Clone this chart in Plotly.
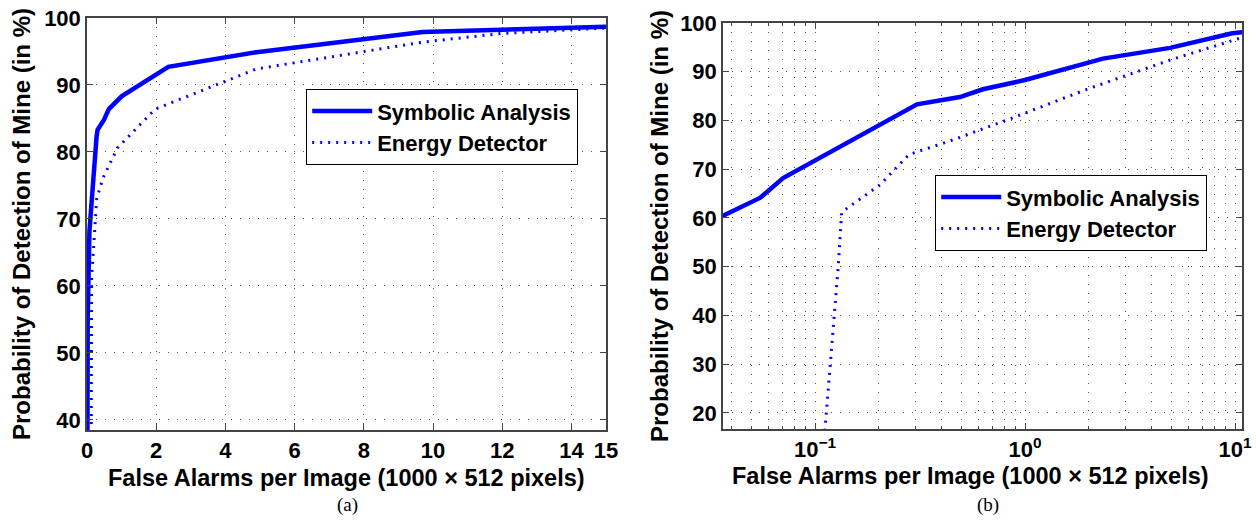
import plotly.graph_objects as go
from plotly.subplots import make_subplots

# ---- data ----
sa_x = [0.0, 0.005, 0.02, 0.0547, 0.0705, 0.277, 0.306, 0.49, 0.63, 1.0, 2.35, 4.9, 9.7, 15.0]
sa_y = [0.0, 38.5, 55.0, 64.1, 68.2, 82.3, 83.3, 84.8, 86.4, 88.3, 92.7, 94.9, 97.9, 98.7]
ed_x = [0.105, 0.1116, 0.129, 0.134, 0.204, 0.28, 0.46, 0.88, 1.97, 4.9, 9.7, 12.0, 15.0]
ed_y = [0.0, 16.7, 50.0, 61.2, 66.8, 73.0, 76.1, 80.6, 86.4, 92.4, 96.4, 97.7, 98.5]

series_names = ["Symbolic Analysis", "Energy Detector"]
lin_xticks = [0, 2, 4, 6, 8, 10, 12, 14, 15]
lin_yticks = [40, 50, 60, 70, 80, 90, 100]
log_xticks = [0.1, 1, 10]
log_xtext = ["10<sup>−1</sup>", "10<sup>0</sup>", "10<sup>1</sup>"]
log_minor = [0.04, 0.05, 0.06, 0.07, 0.08, 0.09,
             0.2, 0.3, 0.4, 0.5, 0.6, 0.7, 0.8, 0.9,
             2, 3, 4, 5, 6, 7, 8, 9]
log_yticks = [20, 30, 40, 50, 60, 70, 80, 90, 100]

x_title = "False Alarms per Image (1000 × 512 pixels)"
y_title = "Probability of Detection of Mine (in %)"

W, H = 1256, 523
BLUE = "#0000FF"

fig = make_subplots(rows=1, cols=2)

def px(x):
    return x / W

def py(y):
    return 1 - y / H

for col, leg in [(1, "legend"), (2, "legend2")]:
    fig.add_trace(go.Scatter(x=sa_x, y=sa_y, mode="lines", name=series_names[0],
                             line=dict(color=BLUE, width=4.5), legend=leg,
                             cliponaxis=True), row=1, col=col)
    fig.add_trace(go.Scatter(x=ed_x, y=ed_y, mode="lines", name=series_names[1],
                             line=dict(color=BLUE, width=3, dash="2px,6px"), legend=leg,
                             cliponaxis=True), row=1, col=col)

tick_font = dict(size=22, color="black", family="Liberation Sans", weight="bold")
grid = dict(showgrid=True, gridcolor="#555555", gridwidth=1, griddash="1px,8px",
            showline=True, linecolor="#444444", linewidth=1.5, mirror="allticks",
            ticks="inside", ticklen=6, tickcolor="#444444", zeroline=False,
            tickfont=tick_font, automargin=False)

legend_font = dict(size=22, family="Liberation Sans", weight="bold", color="black")

fig.update_layout(
    width=W, height=H, margin=dict(l=0, r=0, t=0, b=0, autoexpand=False),
    paper_bgcolor="white", plot_bgcolor="white",
    font=dict(family="Liberation Sans", color="black"),
    xaxis=dict(domain=[px(87), px(606)], range=[0, 15], tickvals=lin_xticks, **grid),
    yaxis=dict(domain=[py(430), py(18)], range=[38.5, 100], tickvals=lin_yticks, **grid),
    xaxis2=dict(domain=[px(723), px(1242)], type="log", range=[-1.438, 1.033],
                tickvals=log_xticks, ticktext=log_xtext,
                minor=dict(tickvals=log_minor, showgrid=True, gridcolor="#555555",
                           gridwidth=1, griddash="1px,8px",
                           ticks="inside", ticklen=3, tickcolor="#444444"),
                **grid),
    yaxis2=dict(domain=[py(429), py(23)], range=[16.7, 100], tickvals=log_yticks, **grid),
    showlegend=True,
    legend=dict(x=px(578), y=py(89), xanchor="right", yanchor="top",
                bgcolor="white", bordercolor="black", borderwidth=1.2,
                font=legend_font, itemwidth=60, tracegroupgap=0),
    legend2=dict(x=px(1207), y=py(175), xanchor="right", yanchor="top",
                 bgcolor="white", bordercolor="black", borderwidth=1.2,
                 font=legend_font, itemwidth=60, tracegroupgap=0),
)

xt_font = dict(size=23.5, family="Liberation Sans", weight="bold", color="black")
yt_font = dict(size=24, family="Liberation Sans", weight="bold", color="black")
cap_font = dict(size=19, family="Liberation Serif", color="black")
ann = [
    dict(text=x_title, x=px(346), y=py(478), font=xt_font),
    dict(text=x_title, x=px(970), y=py(476), font=xt_font),
    dict(text=y_title, x=px(22), y=py(224), font=yt_font, textangle=-90),
    dict(text=y_title, x=px(660), y=py(226), font=yt_font, textangle=-90),
    dict(text="(a)", x=px(347), y=py(505), font=cap_font),
    dict(text="(b)", x=px(988), y=py(505), font=cap_font),
]
for a in ann:
    fig.add_annotation(xref="paper", yref="paper", showarrow=False,
                       xanchor="center", yanchor="middle", **a)

fig.write_html("out.html", config={"displayModeBar": False},
               post_script="document.body.style.margin='0px';"
                           "document.body.style.overflow='hidden';")
